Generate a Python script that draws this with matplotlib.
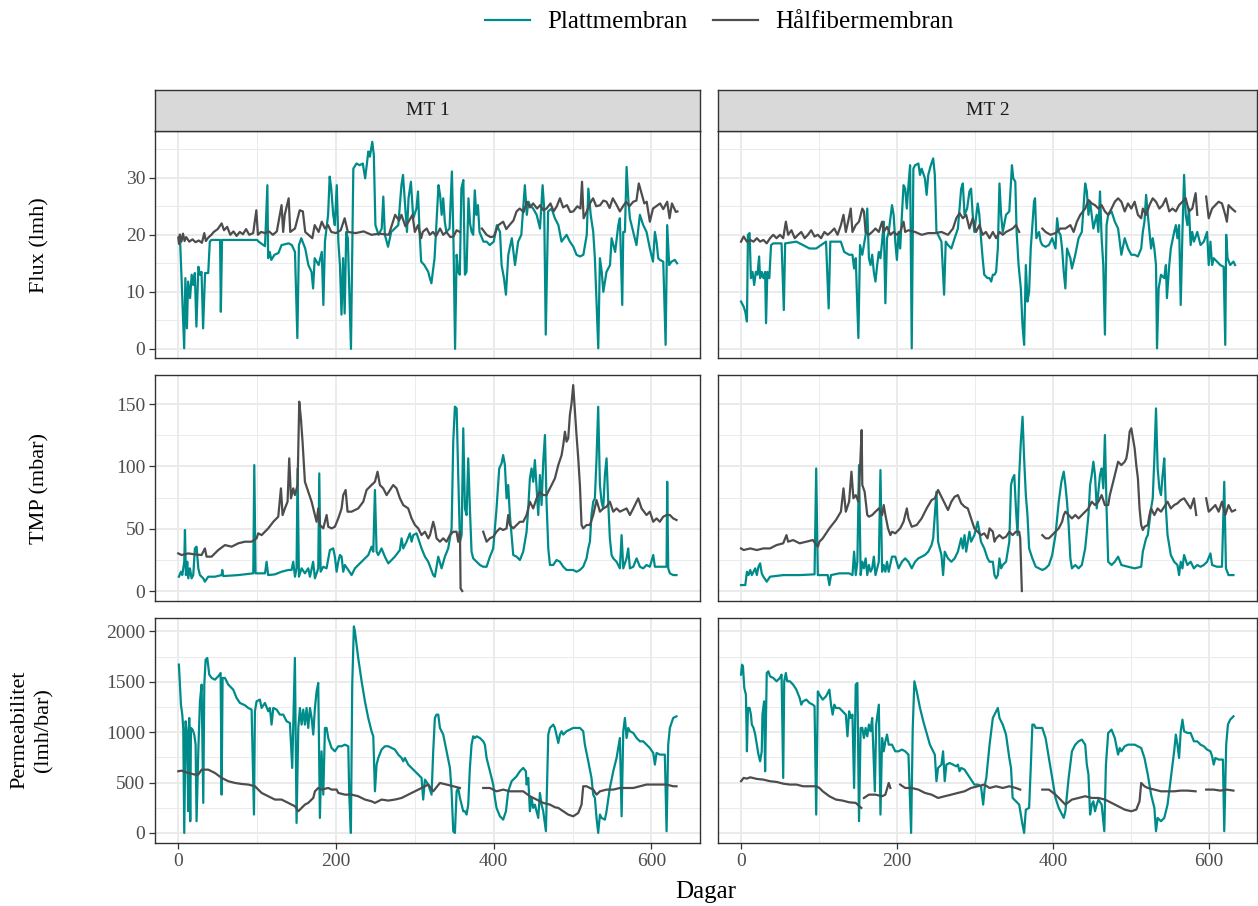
import numpy as np
import matplotlib
matplotlib.use("Agg")
import matplotlib.pyplot as plt
from matplotlib.lines import Line2D

plt.rcParams['font.family'] = ['Liberation Serif', 'DejaVu Serif']

GAP = None

series_names = ["Plattmembran", "Hålfibermembran"]
facet_names = ["MT 1", "MT 2"]
row_titles = ["Flux (lmh)", "TMP (mbar)", "Permeabilitet\n(lmh/bar)"]
x_ticks = [0, 200, 400, 600]
y_ticks = [[0, 10, 20, 30], [0, 50, 100, 150], [0, 500, 1000, 1500, 2000]]

# ---------------- MT 1 ----------------
mt1_flux_plat = [(2,20.0),(4,13.0),(7.5,0.1),(9,12.4),(11,3.6),(12.5,11.8),(15,8.9),(17,13.0),(19,11.2),(21,13.3),(23,3.9),(25.5,14.4),(27.5,13.0),(29.5,13.5),(31.5,3.6),(34,13.3),(38,13.3),(40,18.8),(42,19.1),(53,19.1),(54,6.5),(55.5,19.1),(75,19.1),(100,19.1),(102,18.8),(110,18.0),(113,28.7),(114,15.9),(116,17.0),(118,15.6),(122,16.5),(127,16.8),(131,18.2),(140,18.5),(144,18.2),(148,17.0),(151,1.9),(153,18.2),(156,19.4),(161,17.6),(165,14.7),(169,13.5),(171,10.6),(173,15.9),(178,14.7),(182,17.0),(184,7.7),(186,18.8),(190,23.5),(192,30.2),(194,28.1),(196.5,23.5),(198.5,21.7),(201,28.7),(203,18.8),(205,14.7),(207,6.0),(209,15.9),(211,6.2),(213,20.5),(215,19.4),(219,0.0),(222,31.6),(226,32.5),(230,32.2),(234,32.5),(237,29.9),(241,34.6),(243,33.7),(246,36.3),(248,34.0),(250,21.7),(254,20.0),(258,21.1),(260,26.7),(262,20.0),(266,17.9),(270,20.5),(279,21.7),(283,28.7),(285,30.5),(287,26.4),(290,20.5),(292,26.4),(295,29.3),(298,22.9),(302,24.6),(304,27.6),(306,20.5),(308,15.3),(312,14.7),(317,13.5),(319,12.4),(321,11.5),(325,15.9),(330,28.7),(332,27.0),(334,23.5),(336,26.4),(338,22.3),(340,20.5),(344,21.1),(347,31.1),(349,18.8),(351,0.0),(353,16.5),(355,13.5),(357,13.0),(359,28.1),(361.5,29.6),(363.5,13.0),(365.5,13.5),(368,26.4),(370,22.0),(372,20.5),(374,20.0),(376,27.8),(378,23.5),(380,25.2),(382,20.5),(387,18.8),(391,18.8),(395,18.2),(400,18.8),(404,21.7),(408,20.5),(410,14.7),(413,12.4),(415.5,9.5),(418.5,16.5),(423,19.4),(427,14.7),(431,18.8),(435,20.0),(439.5,28.7),(442,23.5),(444,25.8),(446,25.2),(450,24.6),(454.5,23.5),(458.7,21.1),(462,28.7),(464,24.6),(466,2.5),(469,24.1),(473.4,24.6),(477.6,22.9),(482,21.7),(486,18.8),(492.4,20.0),(496.6,18.8),(501,17.9),(505,16.5),(509.5,16.2),(513.7,16.5),(518,20.0),(520,28.1),(523,23.5),(526.2,20.5),(528.3,15.9),(532.6,0.1),(534.7,15.9),(537,13.5),(539,10.0),(543,13.5),(547.5,14.7),(549.5,19.4),(554,17.0),(558,21.7),(560,22.9),(563,7.7),(564.3,20.5),(566.4,20.5),(568.5,31.9),(570.6,26.4),(572.7,22.9),(577,20.5),(581,18.2),(585.4,23.5),(589.6,21.7),(593.8,20.5),(598,17.6),(602,15.3),(604.4,20.5),(606.5,18.8),(608.6,15.9),(610.7,15.6),(615,15.3),(618,0.7),(620,21.7),(622.5,14.7),(625.5,15.3),(629.7,15.6),(632.6,15.0)]

mt1_flux_hal = [(0,19.5),(1,18.4),(2,20.0),(4,18.8),(6,20.2),(8,18.9),(10,19.6),(14,18.8),(18,19.2),(22,18.7),(26,19.0),(30,18.6),(33,20.3),(35,18.9),(38,19.5),(42,20.0),(45,20.5),(50,21.0),(55,22.0),(58,20.8),(62,21.4),(66,20.0),(70,20.6),(74,19.8),(78,20.5),(82,20.1),(86,21.0),(90,20.0),(95,20.3),(99,24.3),(101,20.0),(105,20.5),(110,20.3),(115,20.6),(120,20.0),(125,20.6),(131,25.2),(133,20.5),(135,23.5),(140,26.4),(142,20.5),(148,21.1),(154,24.3),(158,24.1),(161,20.5),(170,19.4),(173,21.7),(178,20.5),(182,22.3),(186,21.1),(190,21.7),(194,20.5),(200,20.3),(206,20.8),(211,22.9),(215,20.5),(225,20.3),(235,20.6),(245,20.0),(255,20.2),(267,20.0),(275,23.5),(280,22.5),(283,23.5),(288,21.5),(292,22.3),(297,23.5),(300,20.5),(304,21.7),(308,19.4),(310,20.5),(315,21.1),(319,20.0),(323,20.5),(327,19.8),(332,21.1),(336,20.0),(340,20.5),(345,19.6),(349,19.7),(353,20.8),(357,20.5),GAP,(385,21.1),(391,20.0),(396,19.6),(400,19.7),(406,21.7),(412,22.3),(416,21.0),(420,21.7),(425,22.5),(429,24.1),(433,24.6),(438,24.0),(442,25.8),(446,24.8),(450,25.5),(455,24.6),(459,25.2),(463,24.3),(467,24.6),(472,25.5),(476,24.1),(480,25.0),(484,26.4),(488,24.8),(493,25.2),(497,24.0),(501,24.1),(506,25.0),(510,24.6),(512,29.3),(514,22.9),(518,24.1),(522,25.5),(526,26.4),(530,25.0),(535,25.2),(539,26.0),(543,25.8),(547,24.7),(551,26.4),(556,25.2),(560,24.1),(564,25.0),(568,25.8),(572,25.0),(577,25.8),(581,26.0),(584,29.0),(588,27.0),(591,25.5),(594,25.8),(598,22.3),(602,24.6),(606,25.0),(611,25.5),(615,24.5),(620,25.8),(623,22.9),(626,25.5),(628,24.9),(631,24.0),(633,24.1)]

mt1_tmp_plat = [(0.8,11.5),(3.4,15.5),(5.1,12.8),(7.6,23.5),(8.5,49.0),(9.7,12.8),(11.4,23.5),(12.7,10.2),(14.8,18.2),(16.9,10.2),(19,12.8),(21.1,34.2),(23.2,35.6),(25.4,18.2),(27.5,12.8),(31.7,10.2),(33.8,7.5),(38,11.5),(46.5,11.5),(55,12.8),(55.8,16.9),(57,12.0),(76,12.8),(95.1,14.2),(96.4,101.1),(98,14.2),(110,14.2),(112,23.5),(114,12.8),(122.6,13.4),(131,15.5),(139.5,16.9),(143.7,16.9),(145.8,23.5),(148,11.5),(150,18.2),(151.3,98.4),(153,11.5),(156.4,18.2),(160.6,14.2),(164.8,18.2),(167,11.5),(171,23.5),(173.3,10.2),(177.5,18.2),(178.8,94.4),(180.5,15.5),(183.9,19.5),(188,18.2),(192.3,32.9),(196.5,34.2),(198.6,27.6),(200.8,15.5),(202.9,23.5),(205,28.9),(207.1,27.6),(209.2,15.5),(211.3,20.9),(215.6,16.9),(219.8,12.8),(224,18.2),(232.5,23.5),(241,28.9),(245.1,35.6),(247.3,31.6),(249.4,81.1),(251.5,31.6),(253.6,28.9),(257.8,34.2),(262,27.6),(266.3,22.2),(270.5,24.9),(274.7,27.6),(281,32.9),(283.2,42.3),(285.3,34.2),(289.5,39.6),(293.7,46.3),(295.9,39.6),(298,44.9),(302.2,46.3),(304.3,42.3),(308.5,34.2),(312.8,27.6),(317,23.5),(323.3,12.8),(325.4,11.5),(329.7,27.6),(333.9,18.2),(338.1,27.6),(342.3,34.2),(346.6,50.3),(348.7,119.9),(350.8,148.0),(353,146.6),(355,93.1),(357.2,39.6),(359.3,44.9),(361.4,130.6),(363.5,66.3),(365.6,61.0),(367.7,106.5),(369.8,66.3),(371.9,31.6),(374,26.2),(378.3,23.5),(382.5,20.9),(386.7,19.5),(391,19.5),(395.2,27.6),(399.4,34.2),(403.6,66.3),(407,98.4),(410,102.5),(412,109.1),(414.2,101.1),(416.3,74.4),(418.4,85.1),(420.5,61.0),(422.7,44.9),(424.8,28.9),(429,27.6),(433.2,24.9),(437.4,31.6),(441.7,47.6),(443.8,66.3),(445.9,90.4),(448,98.4),(450.1,87.7),(452.2,105.1),(454.4,82.4),(456.5,61.0),(458.6,93.1),(460.7,69.0),(462.8,103.8),(465,125.2),(467,71.7),(469.2,34.2),(471.3,20.9),(475.5,20.9),(479.7,24.9),(484,23.5),(488.2,19.5),(492.4,16.9),(500.8,16.9),(505,15.5),(509.3,16.9),(513.5,19.5),(517.7,26.2),(519.9,34.2),(522,39.6),(524,61.0),(526.2,71.7),(528.3,74.4),(530.4,106.5),(532.5,147.9),(534.7,85.1),(536.8,71.7),(538.9,66.3),(541,93.1),(543.1,106.5),(545.2,71.7),(547.3,42.3),(549.5,28.9),(551.6,26.2),(555.8,23.5),(560,18.2),(562.2,44.9),(564.3,18.2),(568.5,26.2),(570.6,34.2),(572.7,18.2),(577,19.5),(581.2,26.2),(585.4,19.5),(589.6,18.2),(593.8,20.9),(598,19.5),(602.3,28.9),(604.4,19.5),(610.7,19.5),(619.2,19.5),(620,87.7),(621.3,18.2),(623.4,14.2),(627.6,12.8),(631.8,12.8)]

mt1_tmp_hal = [(0,30.2),(4.2,28.9),(12.7,30.2),(21.1,29.4),(29.6,28.9),(33.8,34.2),(35.9,27.6),(42.3,27.6),(50.7,32.9),(59.2,36.9),(67.6,35.6),(76.1,38.3),(84.5,39.6),(93,39.6),(99.3,42.3),(101.4,46.3),(105.7,44.9),(114.1,50.3),(120.5,55.6),(126.8,59.7),(130.2,82.4),(132.3,61.0),(135.2,66.3),(138.6,71.7),(140.7,106.5),(142.9,74.4),(145.8,82.4),(147.9,77.0),(151.3,85.1),(153.4,152.0),(155.5,138.6),(157.6,119.9),(160.6,87.7),(164.8,79.7),(169.1,71.7),(173.3,61.0),(175.4,55.6),(177.5,66.3),(179.6,53.0),(183.9,50.3),(188.1,61.0),(190.2,51.6),(194.4,50.3),(198.6,51.6),(202.9,58.3),(207.1,66.3),(209.2,77.0),(212.2,81.1),(214.7,63.7),(219.8,63.7),(224,65.0),(228.2,66.3),(234.6,71.7),(238.8,81.1),(245.1,85.1),(249.4,87.7),(252.7,95.8),(255.7,85.1),(259.9,82.4),(264.2,77.0),(268.4,81.1),(272.6,85.1),(276.8,82.4),(281.1,74.4),(285.3,69.0),(291.6,66.3),(295.9,58.3),(300.1,53.0),(304.3,50.3),(308.5,44.9),(312.8,47.6),(317,42.3),(319.2,44.9),(323.3,55.6),(325.4,50.3),(327.5,42.3),(331.8,39.6),(336,42.3),(340.2,39.6),(344.4,44.9),(348.7,47.6),(352.9,47.6),(355,39.6),(357.2,47.6),(358,2.1),(360.1,0.0),GAP,(386.7,47.6),(391,39.6),(395.2,42.3),(399.4,43.6),(403.6,47.6),(407.9,50.3),(412,49.0),(416.3,50.3),(418.4,61.0),(420.5,53.0),(424.8,50.3),(429,53.0),(433.2,55.6),(437.4,55.6),(441.7,61.0),(445.9,71.7),(450.1,66.3),(454.4,74.4),(458.6,79.7),(462.8,77.0),(467,77.0),(471.3,82.4),(475.5,87.7),(477.6,90.4),(481.9,101.1),(486.1,109.1),(488.2,117.2),(490.3,127.9),(492.4,119.9),(494.5,122.5),(496.6,141.3),(498.7,150.6),(500.8,165.3),(503,143.9),(505,125.2),(507.2,106.5),(509.3,85.1),(511.4,53.0),(513.5,50.3),(517.7,53.0),(522,53.0),(526.2,61.0),(530.4,73.0),(534.7,63.7),(538.9,66.3),(543.1,67.7),(547.3,71.7),(551.6,63.7),(555.8,66.3),(560,63.7),(568.5,66.3),(572.7,61.0),(577,66.3),(583.3,74.4),(587.5,66.3),(593.8,61.0),(598,63.7),(602.3,55.6),(606.5,58.3),(610.7,55.6),(615,59.7),(619.2,61.0),(623.4,61.0),(627.6,58.3),(631.8,57.0)]

mt1_perm_plat = [(0.8,1670),(3.4,1273),(5.1,1174),(6.3,1042),(7.6,0),(9.3,1108),(11,1009),(12.7,215),(13.9,1141),(15.2,116),(16.1,1042),(18.2,1025),(20.3,976),(22,876),(23.2,116),(25.4,810),(27.5,1306),(29.6,1472),(31.7,298),(33,1472),(34.7,1720),(36.8,1736),(39.3,1571),(42.3,1538),(46.5,1521),(50.7,1554),(53.7,1587),(55,380),(56.2,1538),(59.2,1538),(63.4,1472),(69.7,1422),(74,1339),(78.2,1290),(84.5,1267),(88.8,1240),(93,1224),(96,182),(97.2,1207),(99.3,1306),(103.5,1323),(105.7,1240),(109.9,1290),(114.1,1207),(116.2,1240),(118.3,1075),(120.5,1240),(124.7,1224),(128.9,1174),(133.1,1174),(137.4,1108),(141.6,1091),(144.5,645),(147.9,1736),(150,99),(152.2,1042),(154.3,1240),(156.4,1075),(158.5,1224),(160.6,1075),(162.7,1240),(164.8,1042),(167,1240),(169.1,1141),(171.2,976),(173.3,1240),(175.4,1405),(177.5,1488),(179.6,149),(181.7,810),(183.9,380),(186,1042),(188.1,1042),(190.2,942),(194.4,843),(198.6,810),(202.9,860),(207.1,860),(211.3,876),(215.6,860),(216.8,380),(218.9,0),(220.6,1472),(222.7,2050),(224,2001),(228.2,1736),(232.5,1505),(236.7,1306),(240.9,1141),(245.1,1009),(247.3,959),(249.4,413),(251.5,678),(253.6,744),(257.8,827),(262,860),(266.3,860),(270.5,843),(274.7,827),(279,777),(283.2,744),(285.3,711),(287.4,744),(291.6,678),(295.9,645),(300.1,612),(304.3,579),(308.5,546),(310.6,331),(312.8,529),(317,480),(321.2,380),(323.3,810),(325.4,1141),(327.5,1174),(329.7,1174),(331.8,1042),(333.9,1009),(336,976),(340.2,810),(344.5,645),(346.6,413),(348.7,17),(350.8,0),(353,413),(355,446),(357.2,347),(359.3,281),(361.4,215),(363.5,215),(365.6,182),(367.7,281),(369.8,645),(371.9,876),(374,959),(376.2,942),(378.3,959),(382.5,942),(386.7,909),(388.8,876),(391,744),(395.2,612),(399.4,480),(401.5,347),(403.6,248),(407.9,165),(412,132),(415.5,215),(418.4,413),(422.7,513),(429,562),(433.2,612),(437.4,645),(440.8,612),(441.7,480),(443.8,546),(445.9,215),(448,347),(450.1,248),(452.2,281),(454.4,215),(456.5,149),(458.6,397),(460.7,281),(462.8,215),(466.2,17),(469.2,976),(471.3,1042),(475.5,1075),(477.6,1042),(481.9,893),(484,976),(486.1,1009),(488.2,976),(492.4,1009),(496.6,1025),(500.8,1042),(505,1042),(509.3,1042),(513.5,1009),(515.6,876),(519.9,711),(524,546),(526.2,380),(528.3,347),(530.4,149),(532.5,0),(534.7,182),(536.8,149),(541,132),(543.1,215),(547.3,446),(551.6,612),(555.8,744),(560,942),(562.2,165),(564.3,1009),(566.4,1141),(568.5,942),(570.6,1042),(572.7,1009),(577,992),(581.2,942),(585.4,909),(589.6,909),(593.8,876),(598,843),(602.3,794),(604.4,678),(606.5,794),(610.7,777),(617,777),(619.2,17),(621.3,876),(623.4,1042),(627.6,1141),(631.8,1157)]

mt1_perm_hal = [(0,612),(4.2,618),(12.7,595),(21.1,579),(25.4,579),(29.6,628),(38,628),(46.5,595),(55,546),(63.4,513),(71.9,496),(80.3,486),(88.8,480),(97.2,463),(105.7,397),(114.1,364),(122.6,331),(131,331),(139.5,298),(143.7,281),(148,265),(152.2,215),(156.4,248),(160.6,281),(164.8,298),(171.2,347),(173.3,413),(177.5,446),(181.7,430),(190.2,446),(194.4,430),(200.8,430),(202.9,397),(211.3,380),(219.8,380),(228.2,364),(236.7,331),(245.1,314),(249.4,298),(257.8,331),(266.3,321),(274.7,331),(283.2,347),(291.6,380),(300.1,413),(308.5,446),(317,480),(323.3,413),(331.8,496),(340.2,480),(348.7,463),(357.2,446),GAP,(386.7,446),(395.2,446),(403.6,413),(412,430),(420.5,413),(429,413),(437.4,413),(445.9,364),(454.4,331),(462.8,298),(471.3,281),(477.6,255),(481.9,248),(488.2,215),(494.5,182),(500.8,165),(507.2,198),(511.4,281),(513.5,463),(517.7,463),(522,446),(526.2,430),(530.4,380),(534.7,413),(543.1,430),(551.6,430),(560,446),(568.5,446),(577,446),(585.4,463),(593.8,480),(602.3,480),(610.7,480),(619.2,480),(627.6,463),(631.8,463)]

# ---------------- MT 2 ----------------
mt2_flux_plat = [(0,8.3),(3.4,7.4),(5.5,6.5),(7.6,4.8),(8.9,20.0),(11,20.3),(12.7,12.4),(14.8,13.5),(16.9,11.2),(19,13.5),(21.1,13.0),(23.2,16.2),(24.5,12.4),(26.6,13.5),(28.7,12.4),(30.9,13.5),(32.1,4.5),(33.8,13.5),(36.3,12.4),(38.5,18.2),(41.4,18.5),(52,18.5),(54.9,6.8),(56.6,18.5),(71,18.8),(79.5,18.2),(87.9,17.6),(96.4,17.6),(102.7,18.2),(109,18.8),(112.4,7.1),(114.5,18.8),(128,18.8),(132.3,17.0),(138.6,16.5),(142.9,16.5),(145,14.1),(147.1,15.9),(150.5,1.9),(152.6,18.2),(155.5,16.5),(159.8,20.0),(161.9,24.6),(164,15.9),(166.1,14.7),(168.2,16.5),(170.3,13.5),(172.4,11.8),(174.6,14.7),(176.7,17.0),(178.8,15.9),(180.9,18.8),(183,22.3),(185.1,8.0),(187.2,19.4),(189.4,20.5),(193.6,25.2),(195.7,23.5),(197.8,18.8),(199.9,15.6),(202,20.5),(204.1,17.6),(206.3,23.5),(208.4,28.7),(210.5,28.1),(212.6,24.6),(214.7,28.7),(216.8,32.2),(218.9,0.1),(221,31.6),(223.2,32.2),(227.4,32.5),(229.5,30.5),(231.6,31.6),(235.8,29.9),(238,27.0),(240.1,30.5),(243.4,32.2),(246.4,33.4),(248.5,30.5),(250.6,20.5),(252.7,20.0),(257,18.8),(260.4,9.5),(262.5,18.8),(265.4,18.2),(269.7,17.6),(273.9,19.4),(278.1,21.1),(282.3,28.1),(284.4,29.0),(286.6,23.5),(289.9,24.6),(292.9,27.6),(295,28.1),(297.1,23.5),(299.2,20.5),(303.5,25.5),(305.6,23.5),(307.7,19.4),(309.8,15.9),(311.9,13.0),(316.1,12.4),(318.7,12.4),(320.8,11.8),(322.9,13.0),(325,13.0),(327.1,13.5),(329.3,17.6),(331.4,29.0),(333.5,23.5),(335.6,20.5),(339.8,23.5),(344,24.1),(347.4,32.2),(349.1,29.9),(351.7,29.3),(353.4,20.5),(355.9,14.7),(358.8,10.6),(360.9,4.2),(363,0.7),(365.2,14.7),(367.3,8.3),(369.4,10.0),(371.5,17.6),(373.6,21.7),(375.7,25.8),(377,26.4),(378.7,19.4),(382.1,20.5),(384.2,18.8),(386.3,18.2),(390.5,17.9),(394.8,18.2),(399,19.4),(403.2,17.6),(405.3,22.9),(407.4,20.5),(409.6,20.0),(411.7,17.6),(413.8,13.5),(415.9,10.6),(418,17.6),(422.3,15.9),(424.3,14.1),(428.6,16.5),(432.8,19.4),(437,20.5),(441.3,29.0),(443.4,27.6),(445.5,23.5),(447.6,25.8),(451.8,21.1),(456.1,23.5),(458.2,20.5),(460.3,27.6),(462.4,19.4),(464.5,14.7),(466.6,2.5),(468.7,21.7),(470.8,23.5),(475.1,24.1),(479.3,22.3),(483.5,21.1),(487.7,16.5),(492,19.4),(496.2,17.6),(500.4,16.5),(504.7,16.5),(508.9,16.2),(513.1,17.6),(515.2,20.5),(517.3,22.3),(519.4,27.0),(521.6,23.5),(523.7,20.5),(525.8,17.6),(527.9,19.4),(530,17.6),(532.1,14.7),(533.4,0.1),(535.5,10.6),(538.5,13.0),(542.7,12.4),(544.8,14.7),(546.1,8.9),(549.1,14.7),(551.1,17.6),(555.4,20.5),(557.5,21.7),(559.6,19.4),(561.7,21.7),(563.8,7.7),(566,20.5),(568.1,30.5),(570.2,23.5),(572.3,21.7),(574.4,24.6),(576.5,18.2),(578.6,20.5),(580.7,18.8),(585,20.5),(589.2,18.2),(593.4,18.8),(597.6,20.5),(599.7,14.7),(601.9,18.8),(604,14.7),(606.1,15.9),(610.3,15.3),(614.5,14.7),(618.8,14.4),(620.9,0.7),(622.1,20.0),(623.8,15.9),(627.2,14.7),(631.4,15.3),(633.5,14.7)]

mt2_flux_hal = [(0,18.8),(3.4,19.7),(7.6,18.8),(11.8,19.1),(16.1,18.8),(20.3,19.4),(24.5,18.8),(28.7,19.1),(33,18.5),(37.2,19.4),(41.4,20.0),(45.6,19.4),(49.9,20.0),(54.1,19.4),(57.5,22.3),(60.4,20.0),(64.7,20.8),(68.9,19.4),(73.1,20.0),(77.3,20.5),(81.6,19.4),(85.8,20.0),(90,20.8),(94.3,19.7),(98.5,20.0),(102.7,19.4),(106.9,20.5),(111.2,20.0),(115.4,20.5),(119.6,21.1),(123.8,20.0),(128.1,21.7),(131.4,23.5),(134.4,20.5),(137.8,22.6),(140.7,24.6),(142.9,20.5),(147.1,21.7),(151.3,22.3),(155.5,24.6),(157.6,24.1),(159.8,20.5),(164,20.0),(168.2,20.5),(172.4,21.1),(176.7,20.5),(180.9,22.3),(183,20.5),(187.2,21.4),(191.5,20.0),(195.7,20.5),(199.9,20.0),(204.1,20.5),(208.4,22.3),(210.5,20.5),(214.7,20.8),(223.2,20.5),(231.6,20.0),(240.1,20.3),(248.5,20.3),(257,20.5),(265.4,20.0),(271.8,21.1),(276,22.9),(280.2,23.8),(284.4,22.9),(288.7,23.5),(292.9,21.1),(297.1,22.9),(301.4,20.5),(305.6,21.7),(309.8,20.0),(314,20.5),(318.7,19.4),(322.9,20.5),(327.1,19.4),(331.4,20.5),(335.6,20.0),(339.8,20.5),(344,20.8),(348.3,21.1),(352.5,21.7),(356.7,20.5),GAP,(386.3,21.1),(390.5,20.5),(396.9,20.0),(403.2,20.3),(409.6,21.1),(415.9,21.1),(422.3,21.7),(426.5,20.5),(430.7,22.3),(435,23.5),(441.3,24.6),(445.5,26.1),(449.7,25.5),(453.9,25.2),(458.2,24.6),(462.4,25.2),(466.6,24.1),(470.8,23.5),(475.1,24.6),(479.3,25.8),(483.5,26.4),(487.7,25.8),(492,24.1),(496.2,25.5),(500.4,24.6),(504.7,25.8),(508.9,23.5),(513.1,22.9),(515.2,24.6),(519.4,23.5),(523.7,25.2),(527.9,26.4),(532.1,25.8),(536.4,24.6),(540.6,25.2),(544.8,26.4),(549.1,24.1),(553.3,24.6),(557.5,24.1),(561.7,25.2),(566,25.8),(570.2,26.4),(574.4,24.1),(578.6,24.6),(582.9,27.3),(585,23.5),GAP,(596.4,26.7),(599.7,22.9),(604,24.6),(608.2,25.2),(612.4,25.8),(616.7,25.5),(620.9,23.5),(623,22.3),(625.1,25.2),(629.3,24.6),(633.5,24.1)]

mt2_tmp_plat = [(0,4.8),(5.5,4.8),(7.6,15.5),(9.7,12.8),(11.8,16.9),(13.9,12.8),(16.1,15.5),(18.2,18.2),(20.3,12.8),(22.4,19.5),(24.5,22.2),(26.6,14.2),(28.7,11.5),(33,7.5),(37.2,11.5),(54.1,12.8),(75.2,12.8),(94.3,13.4),(96.4,98.4),(98.5,12.8),(111.2,12.8),(113.3,4.8),(115.4,12.8),(126,14.2),(138.6,14.2),(142.9,12.8),(145,31.6),(147.1,12.8),(149.2,23.5),(151.3,101.1),(153.4,12.8),(155.5,23.5),(157.6,18.2),(159.8,26.2),(161.9,12.8),(164,20.9),(166.1,15.5),(168.2,18.2),(170.3,27.6),(172.4,12.8),(176.7,23.5),(178.8,97.1),(180.9,15.5),(183,20.9),(185.1,15.5),(187.2,23.5),(189.4,15.5),(193.6,27.6),(197.8,27.6),(202,18.2),(206.3,23.5),(210.5,26.2),(214.7,23.5),(218.9,18.2),(223.2,23.5),(227.4,26.2),(231.6,27.6),(235.8,28.9),(240.1,31.6),(244.3,36.9),(246.4,42.3),(248.5,61.0),(250.6,79.7),(252.7,39.6),(254.9,34.2),(257,28.9),(259.1,12.8),(261.2,31.6),(265.4,26.2),(269.7,23.5),(273.9,26.2),(278.1,31.6),(282.3,42.3),(284.4,34.2),(286.6,44.9),(288.7,31.6),(292.9,47.6),(295,39.6),(299.2,44.9),(303.5,55.6),(305.6,47.6),(307.7,39.6),(311.9,34.2),(316.1,26.2),(318.7,23.5),(322.9,23.5),(325,12.8),(327.1,10.2),(329.3,12.8),(331.4,26.2),(333.5,18.2),(335.6,20.9),(339.8,23.5),(344,39.6),(346.2,85.1),(348.3,90.4),(350.4,93.1),(352.5,66.3),(354.6,44.9),(356.7,93.1),(358.8,119.9),(361,139.9),(363,106.5),(365.2,77.0),(367.3,61.0),(369.4,34.2),(373.6,26.2),(377.9,19.5),(382.1,18.2),(386.3,16.9),(390.5,18.2),(394.8,20.9),(399,28.9),(403.2,44.9),(407.4,71.7),(410.8,87.7),(413.8,95.8),(415.9,85.1),(418,71.7),(420.1,53.0),(422.3,26.2),(424.3,18.2),(428.6,20.9),(432.8,18.2),(437,20.9),(441.3,34.2),(445.5,61.0),(447.6,85.1),(449.7,93.1),(451.8,103.8),(453.9,93.1),(456.1,66.3),(458.2,79.7),(460.3,93.1),(462.4,98.4),(464.5,82.4),(466.6,125.2),(468.7,66.3),(470.8,23.5),(475.1,20.9),(479.3,23.5),(483.5,27.6),(487.7,20.9),(496.2,19.5),(504.7,18.2),(513.1,19.5),(515.2,31.6),(517.3,36.9),(519.4,42.3),(521.6,44.9),(523.7,55.6),(525.8,66.3),(527.9,74.4),(530,106.5),(532.1,146.6),(534.2,98.4),(536.4,82.4),(538.5,77.0),(540.6,93.1),(542.7,106.5),(544.8,66.3),(546.9,44.9),(551.1,28.9),(555.4,23.5),(559.6,20.9),(561.7,12.8),(563.8,23.5),(566,18.2),(568.1,28.9),(572.3,20.9),(576.5,23.5),(580.7,18.2),(585,20.9),(589.2,19.5),(593.4,20.9),(597.6,23.5),(601.9,30.2),(604,20.9),(610.3,19.5),(616.7,19.5),(619.6,87.7),(621.8,18.2),(625.1,12.8),(631.4,12.8)]

mt2_tmp_hal = [(0,34.2),(3.4,32.9),(11.8,34.2),(20.3,32.9),(28.7,34.2),(37.2,34.2),(45.6,36.9),(54.1,38.3),(58.3,44.9),(60.4,39.6),(66.8,40.9),(75.2,38.3),(83.7,39.6),(92.1,40.9),(98.5,35.6),(100.6,39.6),(104.8,42.3),(113.3,50.3),(121.7,57.0),(128.1,63.7),(131.4,82.4),(134.4,63.7),(138.6,71.7),(141.6,95.8),(144.1,74.4),(147.1,77.0),(150.5,71.7),(152.6,98.4),(154.7,129.2),(155.5,85.1),(158.5,79.7),(161.9,61.0),(164,59.7),(168.2,61.0),(172.4,63.7),(176.7,66.3),(180.9,61.0),(183,69.0),(185.1,61.0),(188.5,50.3),(191.5,44.9),(193.6,47.6),(197.8,46.3),(204.1,50.3),(208.4,55.6),(212.6,66.3),(214.7,58.3),(218.9,51.6),(225.3,53.0),(231.6,58.3),(238,66.3),(244.3,73.0),(248.5,74.4),(252.7,81.1),(257,75.7),(261.2,70.4),(265.4,65.0),(269.7,71.7),(273.9,75.7),(278.1,77.0),(282.3,70.4),(286.6,67.7),(290.8,66.3),(295,58.3),(299.2,50.3),(303.5,47.6),(307.7,44.9),(311.9,46.3),(316.1,42.3),(318.7,50.3),(322.9,47.6),(325,39.6),(327.1,42.3),(331.4,44.9),(335.6,42.3),(339.8,43.6),(344,47.6),(348.3,44.9),(352.5,47.6),(356.7,47.6),(358,42.3),(360.1,0.0),GAP,(386.3,44.9),(390.5,42.3),(394.8,42.3),(399,44.9),(403.2,47.6),(407.4,50.3),(411.7,55.6),(413.8,61.0),(415.9,63.7),(420.1,61.0),(424.3,58.3),(428.6,61.0),(432.8,58.3),(437,61.0),(441.3,63.7),(445.5,66.3),(449.7,71.7),(453.9,69.0),(458.2,71.7),(462.4,77.0),(466.6,69.0),(470.8,69.0),(472.9,77.0),(475.1,82.4),(477.2,87.7),(479.3,93.1),(481.4,98.4),(483.5,103.8),(487.7,101.1),(492,103.8),(494.1,106.5),(496.2,114.5),(498.3,127.9),(500.4,130.6),(502.5,122.5),(504.7,114.5),(506.8,101.1),(508.9,90.4),(511,66.3),(513.1,53.0),(515.2,49.0),(517.3,51.6),(521.6,53.0),(523.7,61.0),(525.8,66.3),(530,61.0),(534.2,66.3),(538.5,63.7),(542.7,67.7),(546.9,71.7),(551.1,66.3),(555.4,69.0),(559.6,70.4),(563.8,73.0),(568.1,74.4),(572.3,70.4),(576.5,66.3),(580.7,74.4),(583.7,61.0),GAP,(596.4,74.4),(599.7,63.7),(604,66.3),(608.2,69.0),(612.4,63.7),(616.7,71.7),(620.9,61.0),(625.1,69.0),(629.3,63.7),(633.5,65.0)]

mt2_perm_plat = [(0,1571),(1.3,1670),(2.5,1654),(4.2,1439),(6.3,1372),(7.6,810),(8.9,1240),(11,1240),(12.7,1174),(13.9,1075),(16.1,1042),(18.2,976),(20.3,876),(22.4,777),(24.5,711),(26.6,810),(27.5,1174),(29.6,1306),(30.9,612),(33,1587),(35.1,1604),(37.2,1554),(41.4,1538),(45.6,1505),(49.9,1538),(52,1571),(54.1,546),(55.4,1505),(57.5,1587),(59.2,1505),(62.6,1505),(66.8,1472),(71,1422),(75.2,1339),(77.3,1273),(79.5,1306),(83.7,1323),(87.9,1290),(92.1,1273),(94.3,1257),(96.4,182),(98.5,1405),(100.6,1372),(104.8,1323),(109,1356),(113.3,1422),(115.4,1273),(117.5,1174),(119.6,1273),(121.7,1240),(126,1240),(130.2,1207),(134.4,1174),(136.5,959),(138.6,1207),(140.7,1141),(142.9,1174),(145,446),(147.1,1472),(149.2,1488),(151.3,116),(153.4,1042),(155.5,1042),(157.6,942),(159.8,1042),(161.9,959),(164,1075),(166.1,1009),(168.2,1141),(171.6,413),(173.3,1075),(176.7,1273),(178.8,182),(180.9,942),(183,810),(185.1,909),(187.2,976),(189.4,876),(193.6,876),(197.8,810),(202,810),(206.3,827),(210.5,810),(214.7,777),(218.1,0),(220.2,1042),(222.3,1505),(225.3,1405),(229.5,1240),(233.7,1108),(238,992),(242.2,876),(246.4,810),(248.5,777),(250.6,513),(252.7,645),(257,678),(259.1,810),(261.2,513),(263.3,678),(267.5,694),(271.8,678),(276,661),(278.1,678),(280.2,612),(282.3,645),(286.6,628),(290.8,579),(295,529),(299.2,480),(303.5,480),(307.7,463),(310.5,281),(312.8,480),(314.5,546),(318.7,876),(322.9,1141),(327.1,1207),(329.3,1240),(331.4,1141),(333.5,1108),(335.6,1075),(339.8,976),(344,744),(346.2,645),(348.3,347),(352.5,314),(356.7,281),(360.9,83),(363,0),(365.2,231),(369.4,248),(371.5,645),(373.6,1075),(375.7,1075),(377.9,1042),(382.1,1042),(386.3,1042),(390.5,942),(394.8,744),(399,546),(403.2,347),(407.4,248),(413.8,149),(415.9,215),(420.1,546),(424.3,810),(428.6,876),(432.8,909),(437,926),(441.3,876),(443.4,678),(445.5,579),(447.6,182),(449.7,281),(451.8,314),(453.9,215),(456.1,281),(458.2,331),(462.4,281),(465.8,17),(467.9,678),(470.8,992),(475.1,1025),(479.3,942),(483.5,777),(485.6,843),(487.7,810),(492,860),(496.2,876),(500.4,876),(504.7,876),(508.9,860),(513.1,843),(517.3,744),(521.6,579),(525.8,380),(530,248),(532.1,17),(534.2,149),(538.5,116),(542.7,149),(546.9,281),(551.1,546),(555.4,810),(557.5,976),(559.6,876),(561.7,744),(563.8,1009),(566,1124),(568.1,1009),(572.3,992),(576.5,992),(580.7,909),(585,909),(589.2,876),(593.4,860),(597.6,827),(601.9,810),(604,761),(606.1,678),(608.2,744),(612.4,728),(617.9,728),(619.6,17),(622.1,876),(624.3,1075),(627.2,1124),(631.4,1157)]

mt2_perm_hal = [(0,513),(3.4,546),(7.6,539),(11.8,552),(20.3,536),(28.7,529),(37.2,513),(45.6,506),(54.1,489),(62.6,480),(71,480),(79.5,463),(87.9,463),(96.4,463),(100.6,446),(104.8,413),(113.3,364),(121.7,331),(130.2,321),(138.6,304),(147.1,298),(154.3,248),GAP,(157.6,347),(164,380),(172.4,380),(180.9,364),(185.1,380),(189.4,496),(191.5,446),GAP,(204.1,480),(210.5,446),(218.9,446),(227.4,430),(235.8,397),(244.3,380),(252.7,347),(261.2,364),(269.7,380),(278.1,397),(286.6,413),(295,446),(303.5,463),(311.9,480),(318.7,446),(327.1,463),(335.6,446),(344,463),(352.5,446),(358,430),GAP,(386.3,430),(394.8,430),(403.2,380),(409.6,331),(415.9,281),(424.3,331),(432.8,347),(441.3,364),(449.7,347),(458.2,347),(466.6,331),(475.1,298),(483.5,265),(492,231),(500.4,215),(506.8,231),(511,314),(513.1,496),(517.3,463),(521.6,446),(530,430),(538.5,413),(546.9,413),(555.4,413),(563.8,420),(572.3,420),(582.9,413),GAP,(596.4,430),(606.1,430),(614.5,420),(622.9,430),(631.4,420)]

data = {
    (0, 0): (mt1_flux_plat, mt1_flux_hal), (0, 1): (mt2_flux_plat, mt2_flux_hal),
    (1, 0): (mt1_tmp_plat, mt1_tmp_hal), (1, 1): (mt2_tmp_plat, mt2_tmp_hal),
    (2, 0): (mt1_perm_plat, mt1_perm_hal), (2, 1): (mt2_perm_plat, mt2_perm_hal),
}


def unpack(pairs):
    xs, ys = [], []
    for p in pairs:
        if p is None:
            xs.append(np.nan); ys.append(np.nan)
        else:
            xs.append(p[0]); ys.append(p[1])
    return np.array(xs, float), np.array(ys, float)


colors = ["#008B8B", "#4D4D4D"]
W, H = 1258, 906
fig = plt.figure(figsize=(W / 100, H / 100), dpi=100)

col_x = [(155, 700), (718, 1257)]
row_y = [(131, 358), (375, 601), (618, 843)]
ylims = [(-1.6, 38.2), (-8.0, 173.4), (-100, 2133)]
yminor = [[5, 15, 25, 35], [25, 75, 125], [250, 750, 1250, 1750]]
xlim = (-29.5, 661.6)

grid_c = "#EBEBEB"
border_c = "#333333"
tick_c = "#4D4D4D"

for r in range(3):
    for c in range(2):
        x0, x1 = col_x[c]
        yt, yb = row_y[r]
        ax = fig.add_axes([x0 / W, 1 - yb / H, (x1 - x0) / W, (yb - yt) / H])
        ax.set_xlim(*xlim)
        ax.set_ylim(*ylims[r])
        for v in [100, 300, 500]:
            ax.axvline(v, color=grid_c, lw=0.7, zorder=0)
        for v in yminor[r]:
            ax.axhline(v, color=grid_c, lw=0.7, zorder=0)
        for v in x_ticks:
            ax.axvline(v, color=grid_c, lw=1.4, zorder=0)
        for v in y_ticks[r]:
            ax.axhline(v, color=grid_c, lw=1.4, zorder=0)
        plat, hal = data[(r, c)]
        for k, s in enumerate([plat, hal]):
            xs, ys = unpack(s)
            ax.plot(xs, ys, color=colors[k], lw=1.6, zorder=2 + k, solid_joinstyle='round')
        ax.set_xticks(x_ticks)
        ax.set_yticks(y_ticks[r])
        for sp in ax.spines.values():
            sp.set_color(border_c)
            sp.set_linewidth(1.0)
        ax.tick_params(axis='both', color=border_c, length=4, width=0.9,
                       labelcolor=tick_c, labelsize=14, pad=3)
        if c == 1:
            ax.tick_params(axis='y', left=False, labelleft=False)
        if r < 2:
            ax.tick_params(axis='x', bottom=False, labelbottom=False)
        if r == 0:
            sx = fig.add_axes([x0 / W, 1 - 131 / H, (x1 - x0) / W, (131 - 90) / H])
            sx.set_xticks([]); sx.set_yticks([])
            sx.set_facecolor("#D9D9D9")
            for sp in sx.spines.values():
                sp.set_color(border_c)
                sp.set_linewidth(1.0)
            sx.text(0.5, 0.5, facet_names[c], ha='center', va='center',
                    fontsize=14, color="#1A1A1A", transform=sx.transAxes)

# row titles
fig.text(40 / W, 1 - 245 / H, row_titles[0], rotation=90, ha='center', va='center', fontsize=16)
fig.text(40 / W, 1 - 488 / H, row_titles[1], rotation=90, ha='center', va='center', fontsize=16)
fig.text(32 / W, 1 - 730 / H, row_titles[2], rotation=90, ha='center', va='center', fontsize=16,
         multialignment='center', linespacing=1.35)
fig.text(706 / W, 1 - 892 / H, "Dagar", ha='center', va='center', fontsize=18)

handles = [Line2D([], [], color=colors[0], lw=1.6), Line2D([], [], color=colors[1], lw=1.6)]
fig.legend(handles, series_names, loc='center', bbox_to_anchor=(719 / W, 1 - 22 / H),
           ncol=2, frameon=False, fontsize=18, handlelength=1.8, columnspacing=1.0,
           handletextpad=0.7)

fig.savefig("out.png", dpi=100)
